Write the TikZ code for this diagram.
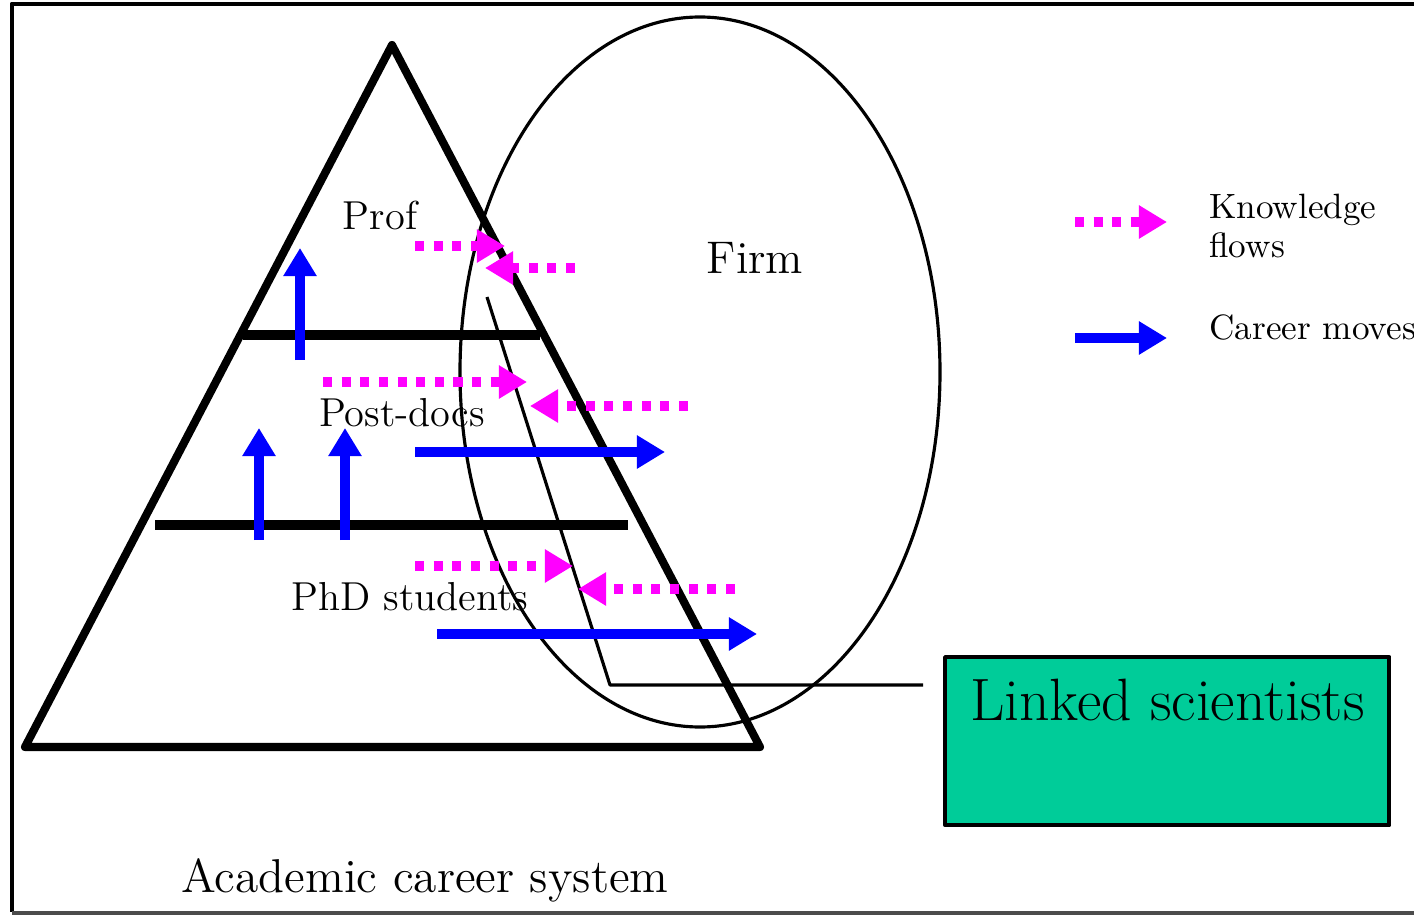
\documentclass[tikz,border=0pt]{standalone}
\usepackage{xcolor}
\usetikzlibrary{arrows.meta}
\definecolor{flowpink}{RGB}{255,0,255}
\definecolor{moveblue}{RGB}{0,0,255}
\definecolor{linkgreen}{RGB}{0,204,153}
\tikzset{
  flow/.style={flowpink, line width=2.6pt, dash pattern=on 2.6pt off 2.7pt, -{Triangle[length=8pt,width=9pt]}},
  move/.style={moveblue, line width=2.6pt, -{Triangle[length=8pt,width=9pt]}},
  level/.style={line width=2.6pt},
  lbl/.style={font=\fontsize{11.5}{13}\selectfont},
  legend/.style={font=\fontsize{10}{11}\selectfont, anchor=west, align=left},
}

\begin{document}
\begin{tikzpicture}[x=0.01cm, y=-0.01cm, line join = round]
                \useasboundingbox (0,0) rectangle (1414,915);
                % frame
                \draw[line width=1.4pt] (1414,4) -- (12,4) -- (12,912);
                \draw[line width=0.9pt, black!70] (12,913) -- (1414,913);
                % pyramid
                \coordinate (0) at (392,45);
                \coordinate (1) at (25,747);
                \coordinate (2) at (760,747);
                % levels
                \coordinate (3) at (243,335);
                \coordinate (4) at (540,335);
                \coordinate (5) at (155,525);
                \coordinate (6) at (628,525);
                % linked scientists bend
                \coordinate (7) at (487,297);
                \coordinate (8) at (610,685);
                \coordinate (9) at (923,685);
                % flows
                \coordinate (f1) at (415,246);
                \coordinate (f2) at (505,246);
                \coordinate (f3) at (575,268);
                \coordinate (f4) at (485,268);
                \coordinate (f5) at (323,382);
                \coordinate (f6) at (527,382);
                \coordinate (f7) at (688,406);
                \coordinate (f8) at (530,406);
                \coordinate (f9) at (415,566);
                \coordinate (f10) at (573,566);
                \coordinate (f11) at (735,589);
                \coordinate (f12) at (578,589);
                % moves
                \coordinate (m1) at (300,360);
                \coordinate (m2) at (300,248);
                \coordinate (m3) at (259,540);
                \coordinate (m4) at (259,428);
                \coordinate (m5) at (345,540);
                \coordinate (m6) at (345,428);
                \coordinate (m7) at (415,452);
                \coordinate (m8) at (665,452);
                \coordinate (m9) at (437,634);
                \coordinate (m10) at (757,634);
                % legend
                \coordinate (k1) at (1075,222);
                \coordinate (k2) at (1167,222);
                \coordinate (k3) at (1075,338);
                \coordinate (k4) at (1167,338);

                \draw[line width=2.3pt] (0) -- (1) -- (2) -- cycle;
                \draw[level] (3) -- (4);
                \draw[level] (5) -- (6);
                \draw[line width=0.9pt] (700,372) ellipse [x radius=240, y radius=355];
                \draw[line width=0.9pt] (7) -- (8) -- (9);

                \node[draw, line width=1.2pt, fill=linkgreen, anchor=north west,
                      minimum width=4.44cm, minimum height=1.68cm] (linked) at (943,655) {};
                \node[font=\fontsize{17}{20}\selectfont, anchor=north] (linkedtxt) at ([yshift=-0.12cm]linked.north) {Linked scientists};

                % knowledge flows
                \draw[flow] (f1) -- (f2);
                \draw[flow] (f3) -- (f4);
                \draw[flow] (f5) -- (f6);
                \draw[flow] (f7) -- (f8);
                \draw[flow] (f9) -- (f10);
                \draw[flow] (f11) -- (f12);
                % career moves
                \draw[move] (m1) -- (m2);
                \draw[move] (m3) -- (m4);
                \draw[move] (m5) -- (m6);
                \draw[move] (m7) -- (m8);
                \draw[move] (m9) -- (m10);
                % legend
                \draw[flow] (k1) -- (k2);
                \draw[move] (k3) -- (k4);

                \node[lbl] (prof) at (380,215) {Prof};
                \node[lbl] (postdocs) at (402,413) {Post-docs};
                \node[lbl] (phd) at (410,597) {PhD students};
                \node[font=\fontsize{13}{15}\selectfont] (firm) at (755,258) {Firm};
                \node[legend] (kflows) at (1197,226) {Knowledge\\flows};
                \node[legend] (cmoves) at (1197,327) {Career moves};
                \node[font=\fontsize{13.5}{15}\selectfont] (acs) at (425,880) {Academic career system};
\end{tikzpicture}
\end{document}
